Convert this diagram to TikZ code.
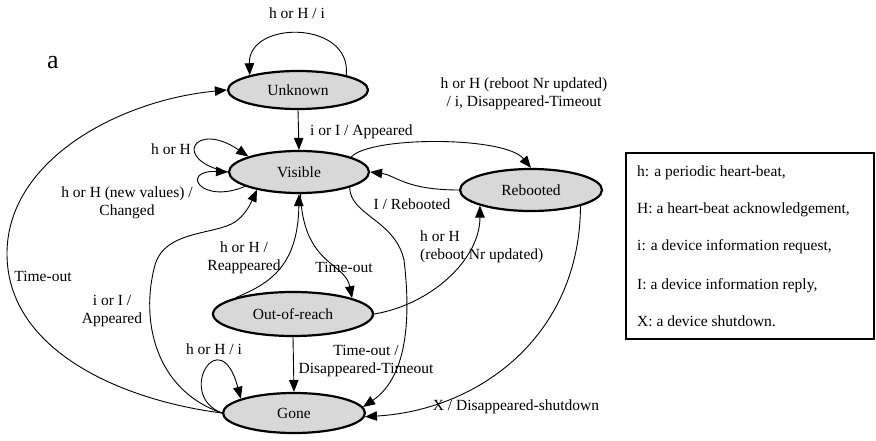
\documentclass[tikz,border=0pt]{standalone}
\usepackage{fontspec}
\setmainfont{Liberation Serif}
\usetikzlibrary{shapes.geometric,arrows.meta}
\definecolor{stategray}{RGB}{216,216,216}
\newcommand{\lblfont}{\fontsize{15.5}{18}\selectfont}
\begin{document}
\begin{tikzpicture}[x=1pt,y=-1pt,
  state/.style={ellipse,draw,line width=2.2pt,fill=stategray,inner sep=0pt,font=\lblfont},
  tr/.style={line width=0.9pt,-{Triangle[length=12pt,width=9.5pt]}},
  lab/.style={inner sep=0pt,font=\lblfont,align=center},
  legline/.style={inner sep=0pt,font=\lblfont,anchor=base west}]
\useasboundingbox (0,0) rectangle (876,441);

% states
\node[state,minimum width=140pt,minimum height=38pt] (U) at (298,90) {Unknown};
\node[state,minimum width=140pt,minimum height=42pt] (V) at (299,172) {Visible};
\node[state,minimum width=142pt,minimum height=42pt] (R) at (531,190) {Rebooted};
\node[state,minimum width=160pt,minimum height=44pt] (O) at (293,314) {Out-of-reach};
\node[state,minimum width=142pt,minimum height=40pt] (G) at (294,413) {Gone};

\node[inner sep=0pt,font=\fontsize{26}{28}\selectfont] (tag) at (53,63) {a};

% transitions
\draw[tr] (U.17) .. controls (352,20) and (248,20) .. (U.163);
\draw[tr] (U.south) -- (V.north);
\draw[tr] (V.west) .. controls (170,160) and (195,120) .. (V.163);
\draw[tr] (V.195) .. controls (200,205) and (180,170) .. (V.west);
\draw[tr] (V.16) .. controls (370,136) and (505,136) .. (R.north);
\draw[tr] (R.west) .. controls (405,190) and (395,175) .. (V.east);
\draw[tr] (O.east) .. controls (430,305) and (480,260) .. (R.197);
\draw[tr] (R.-18) .. controls (580,335) and (480,410) .. (G.-3);
\draw[tr] (V.-17) .. controls (350,215) and (395,220) .. (404,260)
          .. controls (410,310) and (410,375) .. (G.5);
\draw[tr] (O.164) .. controls (265,285) and (298,270) .. (V.-90);
\draw[tr] (V.-86) .. controls (303,265) and (345,262) .. (O.15);
\draw[tr] (O.south) -- (G.north);
\draw[tr] (G.west) .. controls (175,395) and (220,320) .. (G.165);
\draw[tr] (G.west) .. controls (120,400) and (8,350) .. (7,255)
          .. controls (6,160) and (120,100) .. (U.west);
\draw[tr] (G.west) .. controls (155,390) and (140,320) .. (155,265)
          .. controls (165,230) and (215,235) .. (235,222)
          .. controls (245,215) and (250,205) .. (V.203);

% transition labels
\node[lab] (l1) at (297,13) {h or H / i};
\node[lab,anchor=west] (l2) at (310,132) {i or I / Appeared};
\node[lab] (l3) at (524,94) {h or H (reboot Nr updated)\\/ i, Disappeared-Timeout};
\node[lab] (l4) at (171,149) {h or H};
\node[lab] (l5) at (127,203) {h or H (new values) /\\Changed};
\node[lab] (l6) at (412,204) {I / Rebooted};
\node[lab,align=left,anchor=west] (l7) at (420,247) {h or H\\(reboot Nr updated)};
\node[lab] (l8) at (43,276) {Time-out};
\node[lab] (l9) at (112,311) {i or I /\\Appeared};
\node[lab] (l10) at (244,258) {h or H /\\Reappeared};
\node[lab] (l11) at (344,267) {Time-out};
\node[lab] (l12) at (214,349) {h or H / i};
\node[lab] (l13) at (366,361) {Time-out /\\Disappeared-Timeout};
\node[lab] (l14) at (516,407) {X / Disappeared-shutdown};

% legend
\node[draw,line width=1.3pt,minimum width=248pt,minimum height=186pt,inner sep=0pt] (legend) at (750,246) {};
\node[legline] (k1) at (637,177) {h: a periodic heart-beat,};
\node[legline] (k2) at (637,214) {H: a heart-beat acknowledgement,};
\node[legline] (k3) at (637,251) {i: a device information request,};
\node[legline] (k4) at (637,289) {I: a device information reply,};
\node[legline] (k5) at (637,326) {X: a device shutdown.};
\end{tikzpicture}
\end{document}
